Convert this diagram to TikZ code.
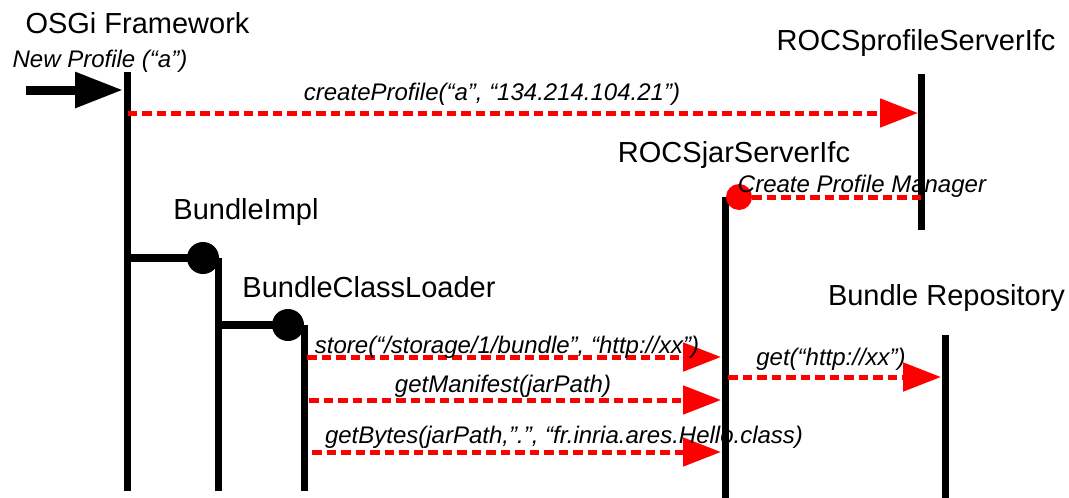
\documentclass[tikz,border=0pt]{standalone}
\usepackage{fontspec}
\setmainfont{Liberation Sans}
\usetikzlibrary{arrows.meta}
\begin{document}
\begin{tikzpicture}[x=1pt,y=-1pt,
  title/.style={anchor=base, inner sep=0pt, font=\fontsize{29}{34}\selectfont},
  lbl/.style={anchor=base, inner sep=0pt, font=\fontsize{24}{28}\selectfont\itshape},
  life/.style={line width=7pt},
  link/.style={line width=8pt},
  reddash/.style={draw=red, line width=5pt, dash pattern=on 9.5pt off 5pt},
  msg/.style={reddash, -{Triangle[length=38pt,width=28pt]}},
  dot/.style={circle, fill=black, minimum size=32pt, inner sep=0pt},
]
\useasboundingbox (0,0) rectangle (1069,498);

% titles
\node[title] (tOSGi) at (137.5,33) {OSGi Framework};
\node[title] (tProf) at (916,50) {ROCSprofileServerIfc};
\node[title] (tJar) at (734,162) {ROCSjarServerIfc};
\node[title] (tImpl) at (246,219) {BundleImpl};
\node[title] (tBCL) at (369,297) {BundleClassLoader};
\node[title] (tRepo) at (946.5,305) {Bundle Repository};

% lifelines
\coordinate (osgiT) at (127.5,72);  \coordinate (osgiB) at (127.5,491);
\coordinate (profT) at (921.5,74);  \coordinate (profB) at (921.5,230);
\coordinate (jarT) at (725,197);    \coordinate (jarB) at (725,498);
\coordinate (repT) at (945.5,335);  \coordinate (repB) at (945.5,498);
\coordinate (implT) at (218.5,258); \coordinate (implB) at (218.5,491);
\coordinate (bclT) at (304.5,325);  \coordinate (bclB) at (304.5,491);
\draw[life] (osgiT) -- (osgiB);
\draw[life] (profT) -- (profB);
\draw[life] (jarT) -- (jarB);
\draw[life] (repT) -- (repB);
\draw[life] (implT) -- (implB);
\draw[life] (bclT) -- (bclB);

% creation links
\node[dot] (implDot) at (203,258) {};
\node[dot] (bclDot) at (288,325) {};
\draw[link] (osgiT |- implDot) -- (implDot.center);
\draw[link] (implT |- bclDot) -- (bclDot.center);

% incoming call
\coordinate (inS) at (26,90);
\coordinate (inE) at (123,90);
\draw[line width=9pt, -{Triangle[length=48pt,width=34pt]}] (inS) -- (inE);
\node[lbl] (lNew) at (100,67) {New Profile (“a”)};

% createProfile
\coordinate (cpS) at (127.5,113);
\coordinate (cpE) at (918,113);
\draw[msg] (cpS) -- (cpE);
\node[lbl] (lCP) at (492,100) {createProfile(“a”, “134.214.104.21”)};

% create profile manager
\node[circle, fill=red, minimum size=26pt, inner sep=0pt] (pmDot) at (739,197) {};
\coordinate (pmE) at (921.5,197);
\draw[reddash] (pmDot.east) -- (pmE);
\node[lbl] (lPM) at (862,192) {Create Profile Manager};

% calls to jar server
\coordinate (s1) at (307,357); \coordinate (e1) at (721,357);
\coordinate (s2) at (309,400); \coordinate (e2) at (721,400);
\coordinate (s3) at (312,452); \coordinate (e3) at (721,452);
\draw[msg] (s1) -- (e1);
\draw[msg] (s2) -- (e2);
\draw[msg] (s3) -- (e3);
\node[lbl] (lStore) at (507,353) {store(“/storage/1/bundle”, “http://xx”)};
\node[lbl] (lMan) at (503,392) {getManifest(jarPath)};
\node[lbl] (lBytes) at (564,443) {getBytes(jarPath,”.”, “fr.inria.ares.Hello.class)};

% get from repository
\coordinate (gS) at (728,377); \coordinate (gE) at (941,377);
\draw[msg] (gS) -- (gE);
\node[lbl] (lGet) at (831,365) {get(“http://xx”)};
\end{tikzpicture}
\end{document}
